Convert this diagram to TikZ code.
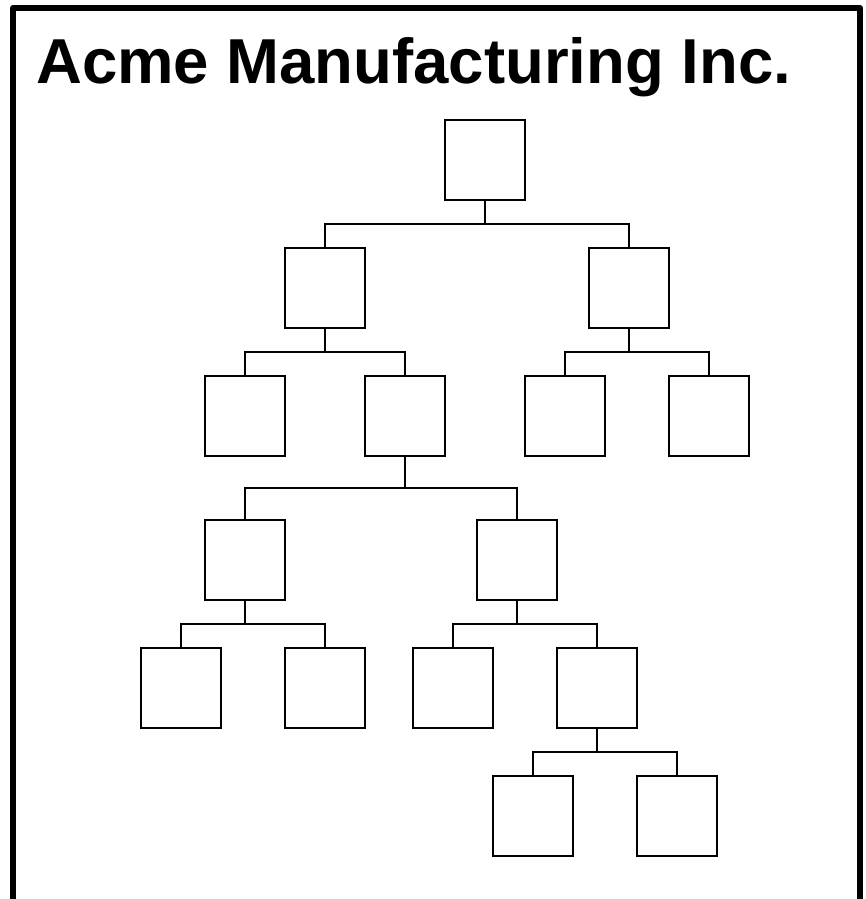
\documentclass[tikz,border=0pt]{standalone}
\usepackage{fontspec}
\setmainfont{Liberation Sans}
\usetikzlibrary{calc}
\begin{document}
\begin{tikzpicture}[x=1pt,y=-1pt,
  orgbox/.style={draw=black,line width=1.3pt,minimum width=80pt,minimum height=80pt,inner sep=0pt,outer sep=0pt},
  link/.style={draw=black,line width=1.3pt},
  stemline/.style={draw=black,line width=2pt},
  frame/.style={draw=black,line width=6pt,line join=round}]
\useasboundingbox (0,0) rectangle (865,899);
\draw[frame] (13,905) -- (13,8) -- (860,8) -- (860,905);
\node[anchor=base west,inner sep=0pt,font=\bfseries\fontsize{63.5}{63.5}\selectfont] (title) at (36,83) {Acme Manufacturing Inc.};
% level 1
\node[orgbox] (a) at (485,160) {};
% level 2
\node[orgbox] (b1) at (325,288) {};
\node[orgbox] (b2) at (629,288) {};
% level 3
\node[orgbox] (c1) at (245,416) {};
\node[orgbox] (c2) at (405,416) {};
\node[orgbox] (c3) at (565,416) {};
\node[orgbox] (c4) at (709,416) {};
% level 4
\node[orgbox] (d1) at (245,560) {};
\node[orgbox] (d2) at (517,560) {};
% level 5
\node[orgbox] (e1) at (181,688) {};
\node[orgbox] (e2) at (325,688) {};
\node[orgbox] (e3) at (453,688) {};
\node[orgbox] (e4) at (597,688) {};
% level 6
\node[orgbox] (f1) at (533,816) {};
\node[orgbox] (f2) at (677,816) {};
% connectors
\draw[stemline] (a.south) -- ++(0,24) coordinate (ba);
\draw[link] (ba) -| (b1.north) (ba) -| (b2.north);
\draw[stemline] (b1.south) -- ++(0,24) coordinate (bb1);
\draw[link] (bb1) -| (c1.north) (bb1) -| (c2.north);
\draw[stemline] (b2.south) -- ++(0,24) coordinate (bb2);
\draw[link] (bb2) -| (c3.north) (bb2) -| (c4.north);
\draw[stemline] (c2.south) -- ++(0,32) coordinate (bc2);
\draw[link] (bc2) -| (d1.north) (bc2) -| (d2.north);
\draw[stemline] (d1.south) -- ++(0,24) coordinate (bd1);
\draw[link] (bd1) -| (e1.north) (bd1) -| (e2.north);
\draw[stemline] (d2.south) -- ++(0,24) coordinate (bd2);
\draw[link] (bd2) -| (e3.north) (bd2) -| (e4.north);
\draw[stemline] (e4.south) -- ++(0,24) coordinate (be4);
\draw[link] (be4) -| (f1.north) (be4) -| (f2.north);
\end{tikzpicture}
\end{document}
